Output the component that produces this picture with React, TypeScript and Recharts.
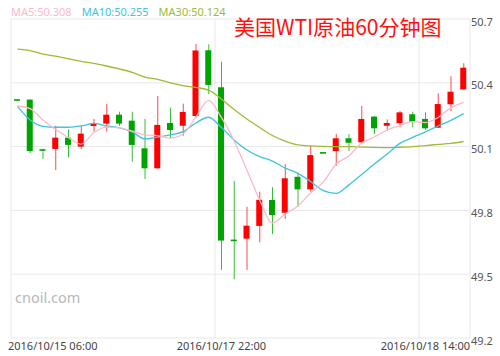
import React from 'react';
import { ComposedChart, Bar, Line, XAxis, YAxis, CartesianGrid, ReferenceLine, Cell } from 'recharts';

const times = [
  '2016/10/15 06:00',
  '2016/10/17 07:00', '2016/10/17 08:00', '2016/10/17 09:00', '2016/10/17 10:00', '2016/10/17 11:00',
  '2016/10/17 12:00', '2016/10/17 13:00', '2016/10/17 14:00', '2016/10/17 15:00', '2016/10/17 16:00',
  '2016/10/17 17:00', '2016/10/17 18:00', '2016/10/17 19:00', '2016/10/17 20:00', '2016/10/17 21:00',
  '2016/10/17 22:00', '2016/10/17 23:00',
  '2016/10/18 00:00', '2016/10/18 01:00', '2016/10/18 02:00', '2016/10/18 03:00', '2016/10/18 04:00',
  '2016/10/18 05:00', '2016/10/18 06:00', '2016/10/18 07:00', '2016/10/18 08:00', '2016/10/18 09:00',
  '2016/10/18 10:00', '2016/10/18 11:00', '2016/10/18 12:00', '2016/10/18 13:00', '2016/10/18 14:00',
  '2016/10/18 15:00', '2016/10/18 16:00', '2016/10/18 17:00',
];

const openP = [
  50.320, 50.321, 50.085, 50.089, 50.142, 50.100, 50.197, 50.208, 50.250, 50.222,
  50.092, 49.998, 50.211, 50.198, 50.244, 50.553, 50.379, 49.660, 49.667, 49.727,
  49.849, 49.789, 49.958, 49.899, 50.072, 50.079, 50.139, 50.120, 50.241, 50.198,
  50.210, 50.252, 50.230, 50.189, 50.299, 50.369,
];
const closeP = [
  50.318, 50.079, 50.083, 50.142, 50.108, 50.161, 50.211, 50.250, 50.208, 50.108,
  49.998, 50.202, 50.178, 50.263, 50.552, 50.390, 49.658, 49.658, 49.728, 49.850,
  49.778, 49.951, 49.899, 50.060, 50.069, 50.139, 50.118, 50.230, 50.186, 50.211,
  50.261, 50.217, 50.186, 50.300, 50.358, 50.471,
];
const highP = [
  50.320, 50.321, 50.089, 50.198, 50.181, 50.198, 50.230, 50.300, 50.264, 50.264,
  50.230, 50.338, 50.283, 50.302, 50.582, 50.581, 50.499, 49.938, 49.817, 49.888,
  49.909, 50.018, 49.977, 50.103, 50.072, 50.159, 50.159, 50.291, 50.243, 50.228,
  50.267, 50.264, 50.261, 50.351, 50.431, 50.492,
];
const lowP = [
  50.318, 50.070, 50.042, 49.990, 50.050, 50.089, 50.170, 50.170, 50.197, 50.029,
  49.948, 49.996, 50.139, 50.151, 50.235, 50.347, 49.520, 49.477, 49.520, 49.650,
  49.689, 49.760, 49.817, 49.888, 50.069, 50.010, 50.079, 50.116, 50.159, 50.175,
  50.191, 50.191, 50.178, 50.187, 50.267, 50.368,
];
const ma5 = [
  50.291, 50.279, 50.225, 50.180, 50.143, 50.112, 50.166, 50.192, 50.188, 50.173,
  50.155, 50.152, 50.140, 50.159, 50.239, 50.317, 50.237, 50.126, 49.990, 49.849,
  49.741, 49.783, 49.821, 49.882, 49.934, 50.018, 50.056, 50.117, 50.145, 50.178,
  50.199, 50.217, 50.213, 50.237, 50.282, 50.308,
];
const ma10 = [
  50.289, 50.225, 50.195, 50.191, 50.191, 50.197, 50.209, 50.197, 50.188, 50.169,
  50.136, 50.145, 50.155, 50.170, 50.211, 50.238, 50.190, 50.131, 50.084, 50.053,
  50.032, 49.999, 49.974, 49.936, 49.893, 49.880, 49.920, 49.969, 50.018, 50.065,
  50.115, 50.143, 50.169, 50.197, 50.223, 50.255,
];
const ma30 = [
  50.558, 50.551, 50.535, 50.525, 50.513, 50.501, 50.491, 50.479, 50.465, 50.449,
  50.427, 50.416, 50.400, 50.387, 50.378, 50.366, 50.324, 50.274, 50.230, 50.190,
  50.152, 50.126, 50.108, 50.103, 50.101, 50.100, 50.100, 50.098, 50.096, 50.095,
  50.097, 50.100, 50.105, 50.110, 50.115, 50.124,
];

const maLabels = ['MA5:50.308', 'MA10:50.255', 'MA30:50.124'];
const yTicks = [49.2, 49.5, 49.8, 50.1, 50.4, 50.7];
const gridMarks = [0, 16, 32, 36];
const title = '美国WTI原油60分钟图';
const watermark = 'cnoil.com';

const UP = '#ff0000';
const DOWN = '#00a400';
const C5 = '#fbb9c9';
const C10 = '#3ec4dd';
const C30 = '#9dbb35';

const data = times.map((t, i) => ({
  t,
  idx: i + 0.5,
  open: openP[i],
  close: closeP[i],
  high: highP[i],
  low: lowP[i],
  wick: [lowP[i], highP[i]],
  body: [Math.min(openP[i], closeP[i]), Math.max(openP[i], closeP[i])],
  up: closeP[i] >= openP[i],
  ma5: ma5[i],
  ma10: ma10[i],
  ma30: ma30[i],
}));

const FONT = '"Noto Sans", "DejaVu Sans", sans-serif';

const XTick = (props: any) => {
  const { x, y, payload } = props;
  const first = payload.value === times[0];
  return (
    <text x={x} y={y} dy="0.71em" dx={first ? -9.4 : 0} textAnchor={first ? 'start' : 'middle'}
      fill="#444" fontSize={11} fontFamily={FONT}>{payload.value}</text>
  );
};

const YTick = (props: any) => {
  const { x, y, payload } = props;
  return (
    <text x={x} y={y} dy={6.5} textAnchor="start" fill="#555" fontSize={11} fontFamily={FONT}>
      {Number(payload.value).toFixed(1)}
    </text>
  );
};

const BodyShape = (props: any) => {
  const { x, y, width, height, payload } = props;
  const h = Math.max(height || 0, 1.6);
  const yy = y + (height || 0) / 2 - h / 2;
  return <rect x={x} y={yy} width={width} height={h} fill={payload.up ? UP : DOWN} />;
};

const WickShape = (props: any) => {
  const { x, y, width, height, payload } = props;
  const cx = x + width / 2;
  return <rect x={cx - 0.5} y={y} width={1} height={Math.max(height || 0, 0.5)} fill={payload.up ? '#ff4a4a' : '#3cbc3c'} />;
};

export default function App() {
  return (
    <div style={{ position: 'absolute', left: 0, top: 0, width: 500, height: 356, background: '#fff' }}>
      <ComposedChart width={500} height={356} data={data} margin={{ top: 19, right: 0, left: 11, bottom: 0 }}>
        <CartesianGrid vertical={false} stroke="#e8e8e8" />
        <XAxis dataKey="t" interval={15} tickLine={false} axisLine={false} height={18}
          tickSize={0} tickMargin={4} tick={<XTick />} />
        <XAxis xAxisId="body" dataKey="t" hide />
        <XAxis xAxisId="grid" dataKey="idx" type="number" domain={[0, 36]} hide />
        <YAxis orientation="right" domain={[49.2, 50.7]} ticks={yTicks} width={30}
          axisLine={false} tickLine={false} tickSize={0} tickMargin={1} tick={<YTick />}
          allowDataOverflow />
        {gridMarks.map((g) => (
          <ReferenceLine key={g} xAxisId="grid" x={g} stroke="#e8e8e8" />
        ))}
        <Bar dataKey="wick" barSize={1} isAnimationActive={false} shape={<WickShape />} />
        <Bar dataKey="body" xAxisId="body" barSize={6} isAnimationActive={false} shape={<BodyShape />} />
        <Line dataKey="ma30" type="monotone" stroke={C30} strokeWidth={1.3} dot={false} isAnimationActive={false} />
        <Line dataKey="ma10" type="monotone" stroke={C10} strokeWidth={1.3} dot={false} isAnimationActive={false} />
        <Line dataKey="ma5" type="monotone" stroke={C5} strokeWidth={1.3} dot={false} isAnimationActive={false} />
      </ComposedChart>
      <div style={{ position: 'absolute', left: 11, top: 4, fontFamily: FONT, fontSize: 11, lineHeight: '16px', whiteSpace: 'nowrap' }}>
        <span style={{ color: C5 }}>{maLabels[0]}</span>
        <span style={{ color: C10, marginLeft: 10 }}>{maLabels[1]}</span>
        <span style={{ color: C30, marginLeft: 10 }}>{maLabels[2]}</span>
      </div>
      <div style={{ position: 'absolute', left: 234, top: 14, color: '#ff1010', fontFamily: '"Noto Sans CJK SC", sans-serif', fontSize: 21, lineHeight: '24px', whiteSpace: 'nowrap' }}>
        {title}
      </div>
      <div style={{ position: 'absolute', left: 15, top: 287, color: '#b8b8b8', fontFamily: FONT, fontSize: 14.5, lineHeight: '20px' }}>
        {watermark}
      </div>
    </div>
  );
}
